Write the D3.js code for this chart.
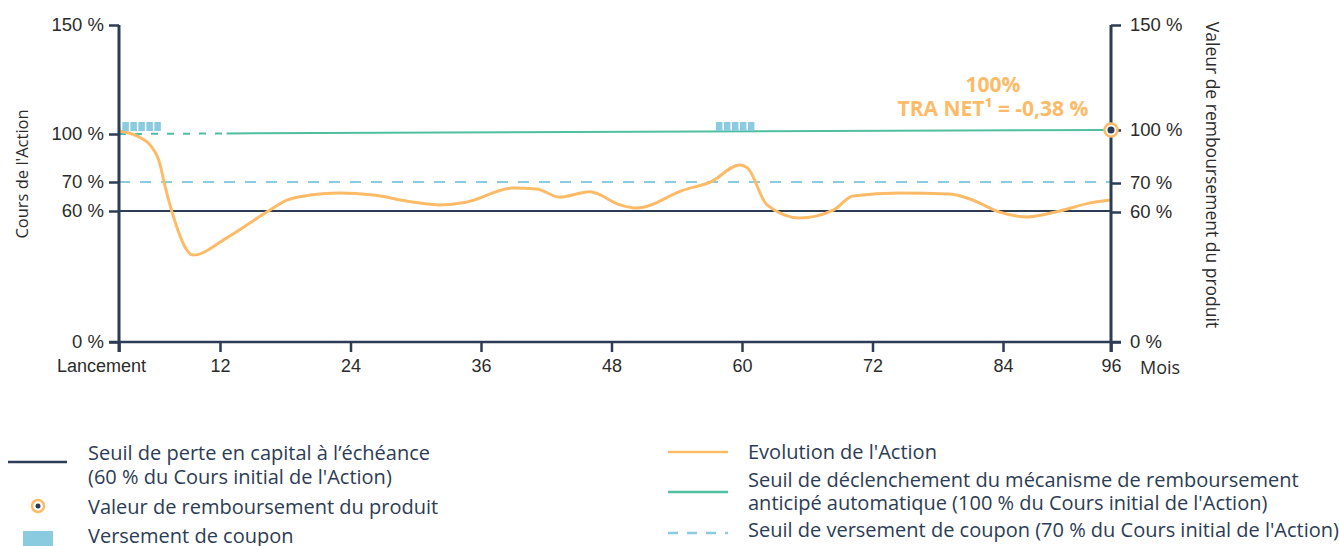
<!DOCTYPE html>
<html>
<head>
<meta charset="utf-8">
<script src="https://cdn.jsdelivr.net/npm/d3@7"></script>
<style>
  body { margin: 0; background: #fff; }
  svg { display: block; font-family: 'Open Sans', sans-serif; }
</style>
</head>
<body>
<svg id="chart" width="1339" height="546"></svg>
<script>
// data
const monthTicks = [0, 12, 24, 36, 48, 60, 72, 84, 96];
const levelTicks = [0, 60, 70, 100, 150];
const actionMonths = [0, 2.6, 3.7, 4.9, 5.35, 6.3, 8.8, 12.6, 16.3, 18.2, 20.3, 23, 26.1, 29.7, 32.2, 34.7, 38.9, 41.1, 43.2, 46, 48.8, 50.3, 54.6, 57.1, 59.8, 60.5, 62.3, 65.3, 68.4, 70.2, 74.5, 79.1, 81.2, 83.7, 86.7, 90.3, 93.7, 96];
const actionValues = [101.5, 97.5, 93.1, 80.6, 70, 59.5, 39.8, 47.6, 59.5, 63.8, 65.5, 66.2, 65.5, 63.1, 62.1, 63.1, 67.9, 67.6, 64.8, 66.6, 62.1, 61, 67.2, 70, 80.6, 78.8, 62.1, 56.8, 60.3, 65.2, 66.2, 65.9, 63.8, 59.5, 57.3, 60, 62.8, 63.8];
const couponStarts = [0.4, 57.6];
const couponCount = 5;
const autocallLevel = 100;
const autocallDashedUntil = 12.6;
const couponLevel = 70;
const capitalLevel = 60;
const redemption = { month: 96, value: 100 };
const annotation = ['100%', 'TRA NET¹ = -0,38 %'];

const navy = '#2c3c55';
const orange = '#fdbb68';
const green = '#4fbf9f';
const blue = '#8bcbe0';
const textCol = '#2b2b2b';

const svg = d3.select('#chart');

// scales are piecewise, like the original
const x = d3.scaleLinear().domain([0, 12, 84, 96]).range([119, 220, 1003, 1111]);
const yL = d3.scaleLinear().domain(levelTicks).range([342, 211, 182, 134, 25]);
const yR = d3.scaleLinear().domain(levelTicks).range([342, 212, 183, 130, 25]);

// threshold lines
svg.append('line')
  .attr('x1', x(0)).attr('x2', x(96))
  .attr('y1', yL(capitalLevel)).attr('y2', yL(capitalLevel))
  .attr('stroke', navy).attr('stroke-width', 2);

svg.append('line')
  .attr('x1', x(0)).attr('x2', x(96))
  .attr('y1', yL(couponLevel)).attr('y2', yL(couponLevel))
  .attr('stroke', blue).attr('stroke-width', 2.2)
  .attr('stroke-dasharray', '11,10');

// autocall: dashed first year then solid, slight drift to right scale
const greenY = m => yL(autocallLevel) + (yR(autocallLevel) - yL(autocallLevel)) * m / 96;
svg.append('line')
  .attr('x1', x(0)).attr('x2', x(autocallDashedUntil))
  .attr('y1', greenY(0)).attr('y2', greenY(autocallDashedUntil))
  .attr('stroke', green).attr('stroke-width', 2)
  .attr('stroke-dasharray', '7,9');
svg.append('line')
  .attr('x1', x(autocallDashedUntil)).attr('x2', x(96))
  .attr('y1', greenY(autocallDashedUntil)).attr('y2', greenY(96))
  .attr('stroke', green).attr('stroke-width', 2);

// action path
const line = d3.line()
  .x((d, i) => x(actionMonths[i]))
  .y(d => yL(d))
  .curve(d3.curveMonotoneX);
svg.append('path')
  .datum(actionValues)
  .attr('fill', 'none')
  .attr('stroke', orange)
  .attr('stroke-width', 3)
  .attr('d', line);

// coupons
svg.append('g')
  .selectAll('rect')
  .data(couponStarts.flatMap(m => d3.range(couponCount).map(k => ({ m, k }))))
  .join('rect')
  .attr('x', d => x(d.m) + d.k * 8)
  .attr('y', yL(autocallLevel) - 12)
  .attr('width', 6.5)
  .attr('height', 9)
  .attr('fill', blue);

// axes
const styleAxis = g => {
  g.select('.domain').remove();
  g.selectAll('.tick line').attr('stroke', navy).attr('stroke-width', 2.5);
  g.selectAll('.tick text').attr('fill', textCol).attr('font-size', 18.5);
};

svg.append('g')
  .attr('transform', `translate(${x(0)},0)`)
  .call(d3.axisLeft(yL).tickValues(levelTicks).tickFormat(d => d + ' %').tickSize(10).tickPadding(5))
  .call(styleAxis);

svg.append('g')
  .attr('transform', `translate(${x(96)},0)`)
  .call(d3.axisRight(yR).tickValues(levelTicks).tickFormat(d => d + ' %').tickSize(10).tickPadding(9))
  .call(styleAxis);

const xAxis = svg.append('g')
  .attr('transform', `translate(0,${yL(0)})`)
  .call(d3.axisBottom(x).tickValues(monthTicks).tickFormat(d => d === 0 ? 'Lancement' : d).tickSize(10).tickPadding(7))
  .call(styleAxis);
xAxis.selectAll('.tick text').attr('font-size', 18);
xAxis.selectAll('.tick text').filter(d => d === 0).attr('dx', -18);

svg.append('line')
  .attr('x1', x(0) - 10).attr('x2', x(96) + 10)
  .attr('y1', yL(0)).attr('y2', yL(0))
  .attr('stroke', navy).attr('stroke-width', 2.5);
svg.append('line')
  .attr('x1', x(0)).attr('x2', x(0))
  .attr('y1', yL(150)).attr('y2', yL(0) + 10)
  .attr('stroke', navy).attr('stroke-width', 3);
svg.append('line')
  .attr('x1', x(96)).attr('x2', x(96))
  .attr('y1', yR(150)).attr('y2', yR(0) + 10)
  .attr('stroke', navy).attr('stroke-width', 3);

svg.append('text')
  .attr('x', x(96) + 29).attr('y', yL(0) + 32)
  .attr('fill', textCol).attr('font-size', 18)
  .text('Mois');

// axis titles
svg.append('text')
  .attr('transform', `translate(22,174) rotate(-90)`)
  .attr('text-anchor', 'middle')
  .attr('dy', '0.35em')
  .attr('fill', textCol).attr('font-size', 16.5)
  .text("Cours de l'Action");
svg.append('text')
  .attr('transform', `translate(1212,175) rotate(90)`)
  .attr('text-anchor', 'middle')
  .attr('dy', '0.35em')
  .attr('fill', textCol).attr('font-size', 17.5)
  .text('Valeur de remboursement du produit');

// annotation
svg.append('g')
  .selectAll('text')
  .data(annotation)
  .join('text')
  .attr('x', 993)
  .attr('y', (d, i) => 92 + i * 24)
  .attr('text-anchor', 'middle')
  .attr('font-weight', 'bold')
  .attr('font-size', 21)
  .attr('fill', orange)
  .text(d => d);

// redemption marker
svg.append('circle')
  .attr('cx', x(redemption.month)).attr('cy', greenY(redemption.month))
  .attr('r', 6.5).attr('fill', '#fff')
  .attr('stroke', orange).attr('stroke-width', 2.5);
svg.append('circle')
  .attr('cx', x(redemption.month)).attr('cy', greenY(redemption.month))
  .attr('r', 3.5).attr('fill', navy);

// legend
const lg = svg.append('g').attr('font-size', 20).attr('fill', navy);

lg.append('line').attr('x1', 8).attr('x2', 67).attr('y1', 462).attr('y2', 462)
  .attr('stroke', navy).attr('stroke-width', 2.5);
lg.append('text').attr('x', 88).attr('y', 460).text('Seuil de perte en capital à l’échéance');
lg.append('text').attr('x', 88).attr('y', 484).text("(60 % du Cours initial de l'Action)");

lg.append('circle').attr('cx', 38).attr('cy', 506).attr('r', 6)
  .attr('fill', '#fff').attr('stroke', orange).attr('stroke-width', 2.5);
lg.append('circle').attr('cx', 38).attr('cy', 506).attr('r', 2.5).attr('fill', navy);
lg.append('text').attr('x', 88).attr('y', 514).text('Valeur de remboursement du produit');

lg.append('rect').attr('x', 23).attr('y', 531).attr('width', 30).attr('height', 20).attr('fill', blue);
lg.append('text').attr('x', 88).attr('y', 543).text('Versement de coupon');

lg.append('line').attr('x1', 668).attr('x2', 728).attr('y1', 452).attr('y2', 452)
  .attr('stroke', orange).attr('stroke-width', 2.5);
lg.append('text').attr('x', 748).attr('y', 459).text("Evolution de l'Action");

lg.append('line').attr('x1', 668).attr('x2', 728).attr('y1', 492).attr('y2', 492)
  .attr('stroke', green).attr('stroke-width', 2.5);
lg.append('text').attr('x', 748).attr('y', 487).text('Seuil de déclenchement du mécanisme de remboursement');
lg.append('text').attr('x', 748).attr('y', 510).text("anticipé automatique (100 % du Cours initial de l'Action)");

lg.append('line').attr('x1', 668).attr('x2', 728).attr('y1', 533).attr('y2', 533)
  .attr('stroke', blue).attr('stroke-width', 2.5).attr('stroke-dasharray', '10,9');
lg.append('text').attr('x', 748).attr('y', 537).text("Seuil de versement de coupon (70 % du Cours initial de l'Action)");
</script>
</body>
</html>
